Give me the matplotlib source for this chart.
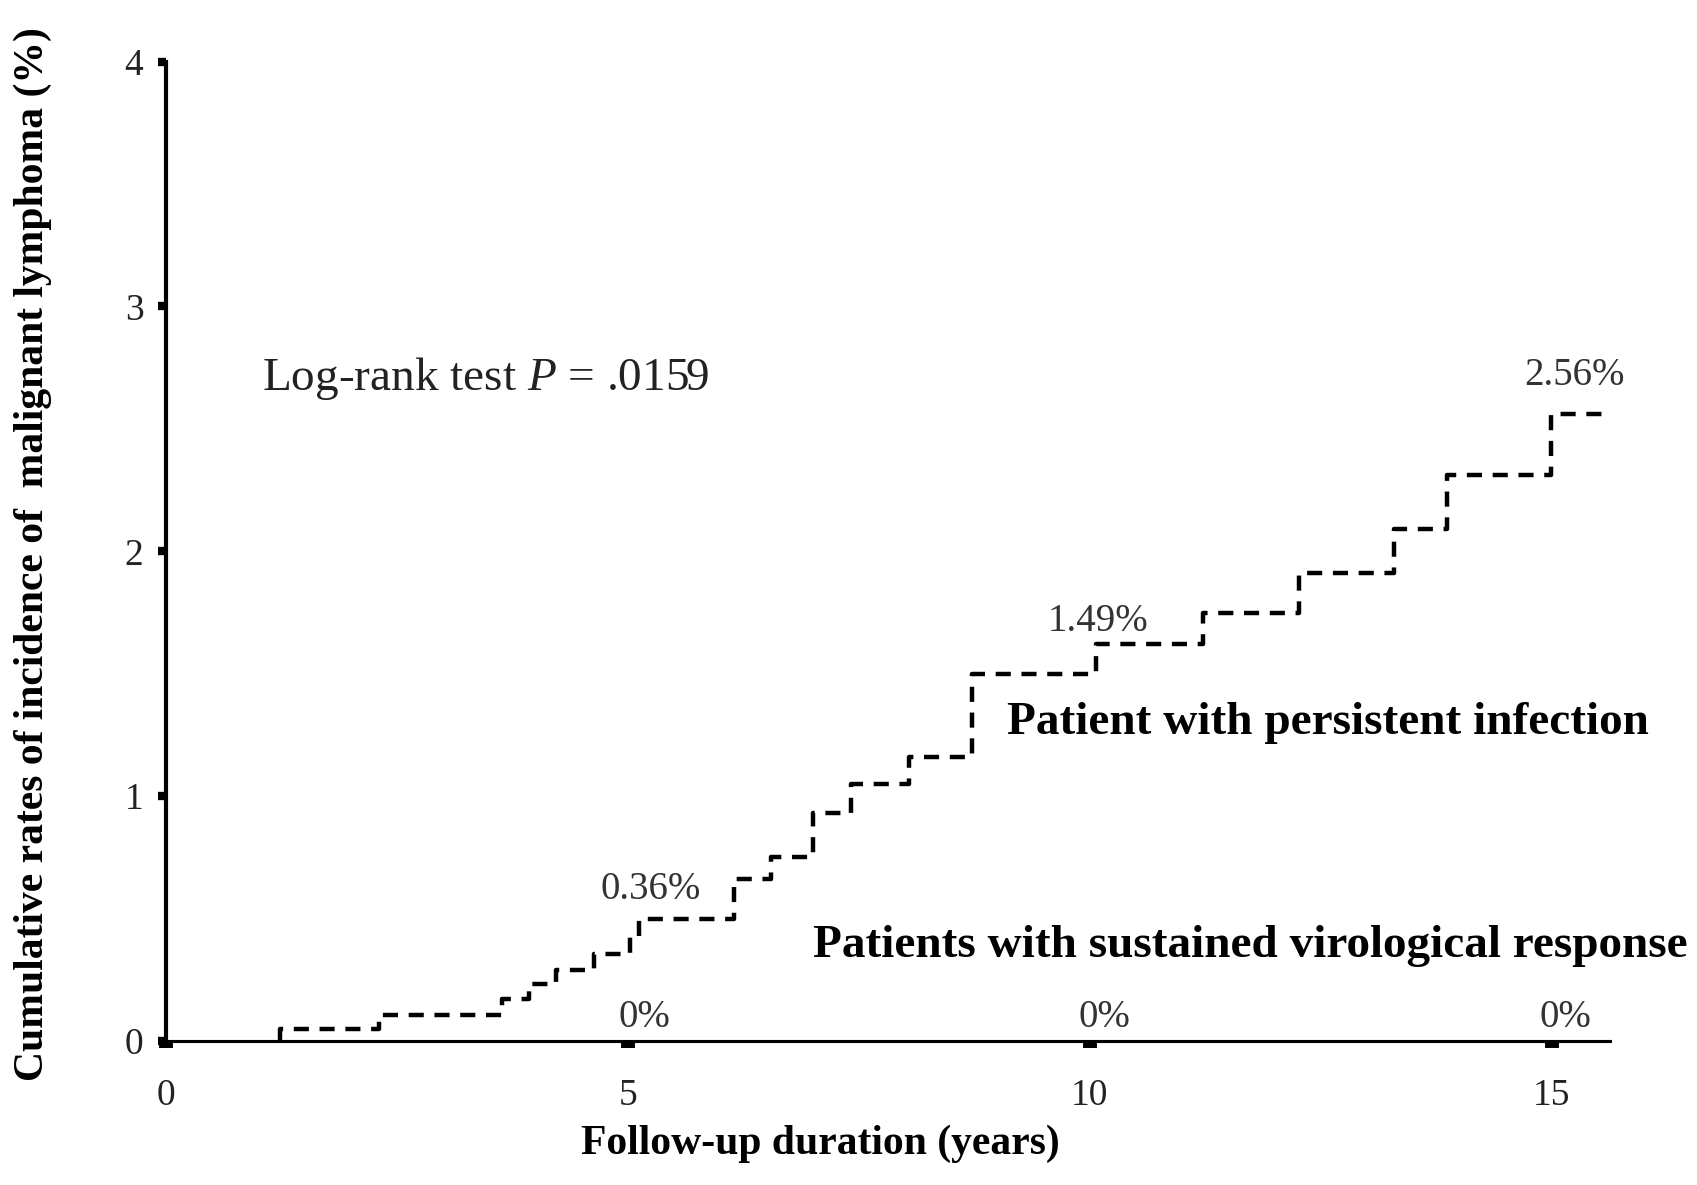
import matplotlib
matplotlib.use("Agg")
import matplotlib.pyplot as plt

# step data (years, cumulative %)
persistent_years = [1.24, 1.24, 2.31, 3.64, 3.93, 4.22, 4.63, 5.03, 5.12, 6.15, 6.55,
                    7.00, 7.42, 8.04, 8.73, 10.07, 11.23, 12.26, 13.29, 13.86, 14.99, 15.62]
persistent_rate = [0.0, 0.05, 0.105, 0.17, 0.233, 0.29, 0.355, 0.43, 0.50, 0.66, 0.75,
                   0.93, 1.05, 1.16, 1.50, 1.62, 1.75, 1.91, 2.09, 2.31, 2.56, 2.56]
svr_years = [0, 15.62]
svr_rate = [0, 0]

pct_labels = ["0.36%", "1.49%", "2.56%"]
pct_x = [5.25, 10.09, 15.25]
pct_y = [0.62, 1.715, 2.72]
zero_labels = ["0%", "0%", "0%"]
zero_x = [5.18, 10.16, 15.15]
zero_y = [0.097, 0.097, 0.097]

plt.rcParams['font.family'] = ['Liberation Serif', 'DejaVu Serif']
plt.rcParams['mathtext.fontset'] = 'custom'
plt.rcParams['mathtext.rm'] = 'Liberation Serif'
plt.rcParams['mathtext.it'] = 'Liberation Serif:italic'

fig = plt.figure(figsize=(16.97, 11.85), dpi=100)
ax = fig.add_axes([0.0976, 0.1215, 0.8512, 0.8265])

ax.plot(svr_years, svr_rate, color='black', lw=2.2, clip_on=False)
ax.plot(persistent_years, persistent_rate, drawstyle='steps-post', color='black',
        lw=3.2, linestyle=(0, (3.4, 2.4)), clip_on=False)

ax.set_xlim(0, 15.63)
ax.set_ylim(0, 4)
ax.spines['top'].set_visible(False)
ax.spines['right'].set_visible(False)
ax.spines['left'].set_linewidth(3.0)
ax.spines['bottom'].set_linewidth(2.2)

ax.set_xticks([0, 5, 10, 15])
ax.set_yticks([0, 1, 2, 3, 4])
ax.tick_params(axis='y', direction='out', length=6, width=6, pad=10,
               labelsize=27, labelcolor='#222222')
ax.tick_params(axis='x', direction='out', length=5, width=10, pad=22,
               labelsize=27, labelcolor='#222222')

ax.set_xlabel("Follow-up duration (years)", fontsize=30, fontweight='bold')
ax.xaxis.set_label_coords(0.453, -0.085)
ax.set_ylabel("Cumulative rates of incidence of  malignant lymphoma (%)",
              fontsize=30, fontweight='bold')
ax.yaxis.set_label_coords(-0.079, 0.497)

ax.text(1.04, 2.705, "Log-rank test $\\mathit{P}$ = .0159", fontsize=34, color='#222222',
        va='center', ha='left')
ax.text(9.1, 1.30, "Patient with persistent infection", fontsize=34,
        fontweight='bold', va='center', ha='left')
ax.text(7.0, 0.39, "Patients with sustained virological response", fontsize=34,
        fontweight='bold', va='center', ha='left', clip_on=False)

for lab, x, y in zip(pct_labels, pct_x, pct_y):
    ax.text(x, y, lab, fontsize=28, color='#333333', ha='center', va='center')
for lab, x, y in zip(zero_labels, zero_x, zero_y):
    ax.text(x, y, lab, fontsize=28, color='#333333', ha='center', va='center')

fig.savefig("out.png", dpi=100)
